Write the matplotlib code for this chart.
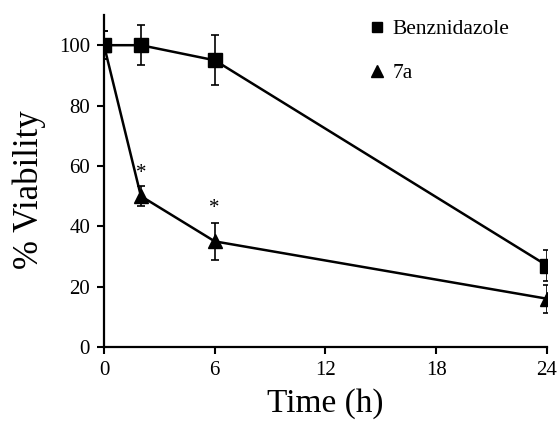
import matplotlib
matplotlib.use("Agg")
import matplotlib.pyplot as plt
from matplotlib.lines import Line2D

plt.rcParams['font.family'] = ['Liberation Serif', 'DejaVu Serif']

time = [0, 2, 6, 24]
benz = [100, 100, 95, 27]
benz_err = [4.6, 6.6, 8.3, 5.0]
a7 = [100, 50, 35, 16]
a7_err = [4.6, 3.3, 6.2, 4.7]
star_x = [2, 6]
star_y = [57.5, 46]
xticks = [0, 6, 12, 18, 24]
yticks = [0, 20, 40, 60, 80, 100]

fig = plt.figure(figsize=(5.59, 4.24), dpi=100)
ax = fig.add_axes([0.186, 0.1816, 0.7925, 0.783])

ax.errorbar(time, benz, yerr=benz_err, color='black', marker='s', markersize=9.5,
            linewidth=1.8, elinewidth=1.2, capsize=3, capthick=1.2, zorder=3)
ax.errorbar(time, a7, yerr=a7_err, color='black', marker='^', markersize=10,
            linewidth=1.8, elinewidth=1.2, capsize=3, capthick=1.2, zorder=3)
for x, y in zip(star_x, star_y):
    ax.text(x, y, '*', ha='center', va='center', fontsize=15)

ax.set_xlim(0, 24)
ax.set_ylim(0, 110)
ax.set_xticks(xticks)
ax.set_yticks(yticks)
for s in ['top', 'right']:
    ax.spines[s].set_visible(False)
for s in ['left', 'bottom']:
    ax.spines[s].set_linewidth(1.6)
ax.tick_params(direction='out', length=5, width=1.5, labelsize=15, pad=5)
ax.set_xlabel('Time (h)', fontsize=24, labelpad=6)
ax.set_ylabel('% Viability', fontsize=25)
ax.yaxis.set_label_coords(-0.13, 0.475)

handles = [Line2D([], [], color='black', marker='s', linestyle='none', markersize=7),
           Line2D([], [], color='black', marker='^', linestyle='none', markersize=8)]
fig.legend(handles, ['Benznidazole', '7a'], loc='upper left',
           bbox_to_anchor=(0.62, 1.0), frameon=False, fontsize=15.5,
           labelspacing=1.1, handlelength=1.0, handletextpad=0.25)

fig.savefig('out.png', dpi=100)
